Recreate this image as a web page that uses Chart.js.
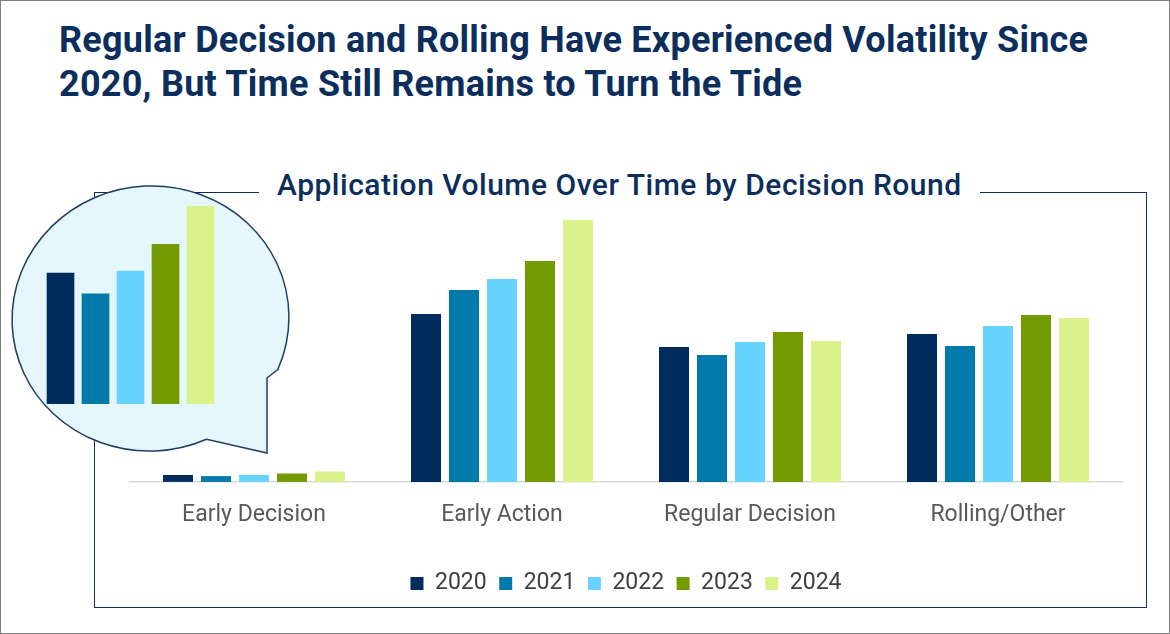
<!DOCTYPE html>
<html>
<head>
<meta charset="utf-8">
<script src="https://cdn.jsdelivr.net/npm/chart.js@4.4.0/dist/chart.umd.min.js"></script>
<style>
    html, body { margin: 0; padding: 0; background: #fff; }
    #page {
        position: relative;
        width: 1168px;
        height: 632px;
        border: 1px solid #7f7f7f;
        overflow: hidden;
        font-family: Roboto, "Noto Sans", sans-serif;
    }
    #title {
        position: absolute;
        left: 58px;
        top: 17px;
        margin: 0;
        font-size: 36px;
        font-weight: 700;
        letter-spacing: 0.25px;
        line-height: 44px;
        color: #0b2e5c;
        white-space: nowrap;
    }
    #frame {
        position: absolute;
        left: 93px;
        top: 191px;
        width: 1051px;
        height: 414px;
        border: 1px solid #0b2e5c;
    }
    #subtitle {
        position: absolute;
        left: 258px;
        top: 165px;
        padding: 0 18px;
        background: #fff;
        font-size: 30px;
        font-weight: 500;
        letter-spacing: 0.5px;
        line-height: 38px;
        color: #0b2e5c;
        white-space: nowrap;
    }
    #main { position: absolute; left: 0; top: 0; }
    #inset { position: absolute; left: 0; top: 180px; }
</style>
</head>
<body>
<div id="page">
    <h1 id="title">Regular Decision and Rolling Have Experienced Volatility Since<br>2020, But Time Still Remains to Turn the Tide</h1>
    <div id="frame"></div>
    <canvas id="main" width="1168" height="632"></canvas>
    <div id="subtitle">Application Volume Over Time by Decision Round</div>
    <canvas id="inset" width="300" height="280"></canvas>
</div>
<script>
"use strict";

// --- data
const rounds = ["Early Decision", "Early Action", "Regular Decision", "Rolling/Other"];
const years = ["2020", "2021", "2022", "2023", "2024"];
const vol2020 = [6.9, 168, 135, 148];
const vol2021 = [5.8, 192, 127, 136];
const vol2022 = [7.0, 203, 140, 156];
const vol2023 = [8.4, 221, 150, 167];
const vol2024 = [10.4, 262, 141, 164];
const yearColors = ["#002d5e", "#0079ab", "#66d4ff", "#739a00", "#d9f28a"];

const series = [vol2020, vol2021, vol2022, vol2023, vol2024];

document.addEventListener("DOMContentLoaded", function () {
    Chart.defaults.animation = false;
    Chart.defaults.responsive = false;

    // --- Main grouped bars
    const mainCtx = document.getElementById("main").getContext("2d");
    new Chart(mainCtx, {
        type: "bar",
        data: {
            labels: rounds,
            datasets: years.map((yr, i) => ({
                label: yr,
                data: series[i],
                backgroundColor: yearColors[i],
                borderWidth: 0,
                categoryPercentage: 0.766,
                barPercentage: 0.79,
            })),
        },
        options: {
            maintainAspectRatio: false,
            layout: { padding: { left: 129, right: 47, top: 181, bottom: 28 } },
            plugins: {
                legend: {
                    position: "bottom",
                    labels: {
                        boxWidth: 13,
                        boxHeight: 13,
                        padding: 12.5,
                        color: "#404040",
                        font: { family: "Roboto", size: 23 },
                    },
                },
                tooltip: { enabled: false },
            },
            scales: {
                x: {
                    grid: { display: false },
                    border: { color: "#d9d9d9", width: 1.5 },
                    ticks: {
                        padding: 12,
                        color: "#595959",
                        font: { family: "Roboto", size: 23 },
                    },
                    afterFit: (scale) => { scale.height += 18; },
                },
                y: { display: false, min: 0, max: 300 },
            },
        },
    });

    // --- Zoomed Early Decision callout
    const bubble = {
        id: "bubble",
        beforeDraw(chart) {
            const c = chart.ctx;
            const cx = 149.5, cy = 137.5, rx = 138.5, ry = 132.5, rot = -0.1;
            c.save();
            c.beginPath();
            c.ellipse(cx, cy, rx, ry, rot, 1.25, 0.5 + Math.PI * 2, false);
            c.lineTo(266, 197);
            c.lineTo(266, 272);
            c.closePath();
            c.fillStyle = "#e5f7fd";
            c.fill();
            c.lineWidth = 1.5;
            c.strokeStyle = "#1f3f66";
            c.stroke();
            c.restore();
        },
    };

    const insetCtx = document.getElementById("inset").getContext("2d");
    new Chart(insetCtx, {
        type: "bar",
        data: {
            labels: [rounds[0]],
            datasets: years.map((yr, i) => ({
                label: yr,
                data: [series[i][0]],
                backgroundColor: yearColors[i],
                borderWidth: 0,
                categoryPercentage: 1,
                barPercentage: 0.79,
            })),
        },
        options: {
            maintainAspectRatio: false,
            layout: { padding: { left: 42, right: 83, top: 13.6, bottom: 57 } },
            plugins: { legend: { display: false }, tooltip: { enabled: false } },
            scales: {
                x: { display: false },
                y: { display: false, min: 0, max: 11 },
            },
        },
        plugins: [bubble],
    });
});
</script>
</body>
</html>
